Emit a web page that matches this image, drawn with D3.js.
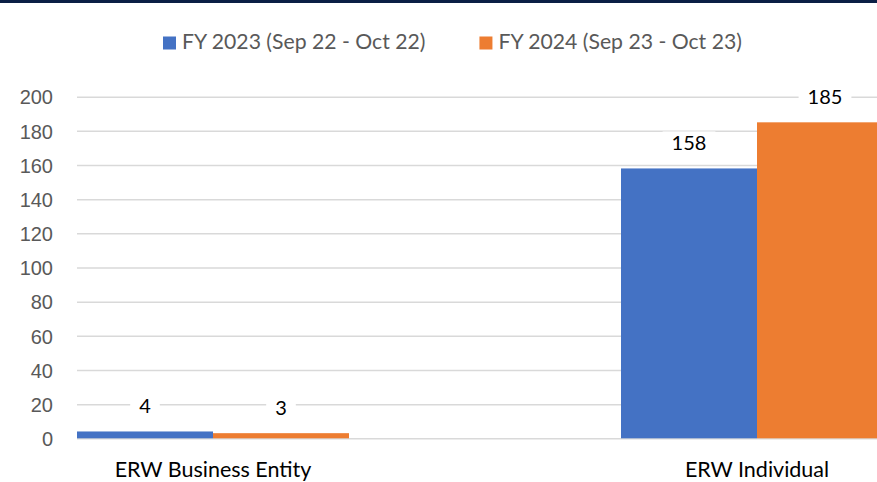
<!DOCTYPE html>
<html>
<head>
<meta charset="utf-8">
<script src="https://cdn.jsdelivr.net/npm/d3@7/dist/d3.min.js"></script>
<style>
  html, body { margin: 0; padding: 0; background: #fff; }
  svg { display: block; font-family: Lato, "Open Sans", sans-serif; }
</style>
</head>
<body>
<svg id="chart" width="877" height="482"></svg>
<script>
// data
var categories = ["ERW Business Entity", "ERW Individual"];
var seriesNames = ["FY 2023 (Sep 22 - Oct 22)", "FY 2024 (Sep 23 - Oct 23)"];
var fy2023 = [4, 158];
var fy2024 = [3, 185];
var yTicks = [0, 20, 40, 60, 80, 100, 120, 140, 160, 180, 200];
var colors = ["#4472C4", "#ED7D31"];

var svg = d3.select("#chart"),
    width = +svg.attr("width"),
    height = +svg.attr("height");

var plot = {left: 77, top: 96.7, bottom: 438.3};

// top border strip
svg.append("rect")
    .attr("x", 0).attr("y", 0)
    .attr("width", width).attr("height", 3)
    .attr("fill", "#0b1f45");

var y = d3.scaleLinear().domain([0, 200]).range([plot.bottom, plot.top]);

// category bands: first band starts at plot left, step of 544
var x0 = d3.scaleBand()
    .domain(categories)
    .range([plot.left - 136, plot.left - 136 + 544 * 2])
    .paddingInner(0.5)
    .paddingOuter(0.25);

var x1 = d3.scaleBand()
    .domain([0, 1])
    .range([0, x0.bandwidth()]);

// gridlines
var yAxis = d3.axisLeft(y)
    .tickValues(yTicks)
    .tickSize(-(width - plot.left))
    .tickPadding(24);

var gy = svg.append("g")
    .attr("transform", "translate(" + plot.left + ",0)")
    .call(yAxis);
gy.select(".domain").remove();
gy.selectAll(".tick line")
    .attr("stroke", "#d9d9d9")
    .attr("stroke-width", 1.5);
gy.selectAll(".tick text")
    .attr("fill", "#595959")
    .style("font-size", "20px")
    .attr("dy", "0.36em");

var rows = categories.map(function(c, i) {
    return {cat: c, values: [fy2023[i], fy2024[i]]};
});

var groups = svg.selectAll(".group")
    .data(rows)
    .enter().append("g")
    .attr("class", "group")
    .attr("transform", function(d) { return "translate(" + x0(d.cat) + ",0)"; });

groups.selectAll("rect.bar")
    .data(function(d) { return d.values; })
    .enter().append("rect")
    .attr("class", "bar")
    .attr("x", function(d, i) { return x1(i); })
    .attr("y", function(d) { return y(d); })
    .attr("width", x1.bandwidth())
    .attr("height", function(d) { return y(0) - y(d); })
    .attr("fill", function(d, i) { return colors[i]; });

// data labels with white boxes
var labels = groups.selectAll("g.lbl")
    .data(function(d) { return d.values; })
    .enter().append("g")
    .attr("class", "lbl")
    .attr("transform", function(d, i) {
        return "translate(" + (x1(i) + x1.bandwidth() / 2) + "," + (y(d) - 18) + ")";
    });

labels.append("text")
    .attr("text-anchor", "middle")
    .attr("fill", "#000")
    .style("font-size", "20px")
    .text(function(d) { return d; });

labels.each(function() {
    var g = d3.select(this);
    var w = g.select("text").node().getComputedTextLength();
    g.insert("rect", "text")
        .attr("x", -w / 2 - 9)
        .attr("y", -19)
        .attr("width", w + 18)
        .attr("height", 26)
        .attr("fill", "#fff");
});

// category labels
svg.selectAll(".cat")
    .data(categories)
    .enter().append("text")
    .attr("class", "cat")
    .attr("x", function(d) { return x0(d) + x0.bandwidth() / 2; })
    .attr("y", 477)
    .attr("text-anchor", "middle")
    .attr("fill", "#000")
    .style("font-size", "21.5px")
    .text(function(d) { return d; });

// legend
var legend = svg.append("g").attr("class", "legend");
var lx = 163;
seriesNames.forEach(function(name, i) {
    var item = legend.append("g").attr("transform", "translate(" + lx + ",0)");
    item.append("rect")
        .attr("x", 0).attr("y", 36.5)
        .attr("width", 13).attr("height", 13)
        .attr("fill", colors[i]);
    var t = item.append("text")
        .attr("x", 19).attr("y", 49)
        .attr("fill", "#595959")
        .style("font-size", "21.2px")
        .text(name);
    lx += 19 + t.node().getComputedTextLength() + 54;
});
</script>
</body>
</html>
